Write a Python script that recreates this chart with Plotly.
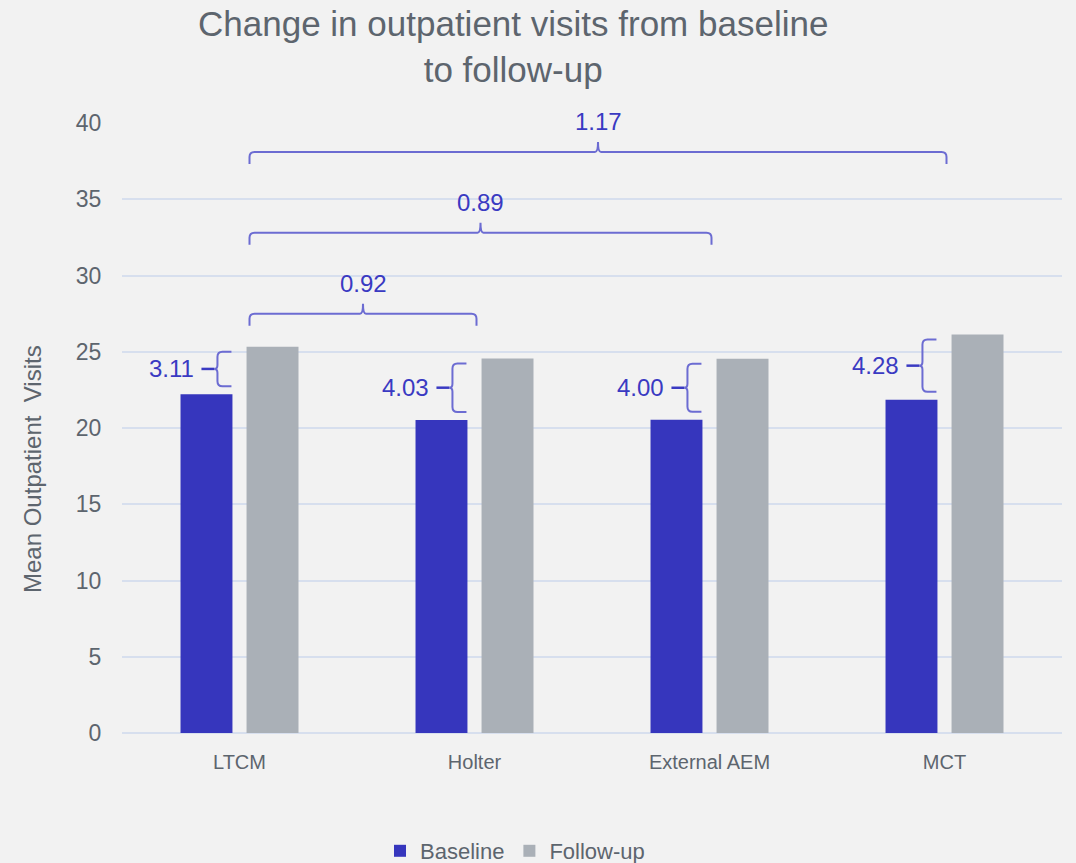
import plotly.graph_objects as go

# ---- data ----
categories = ["LTCM", "Holter", "External AEM", "MCT"]
baseline = [22.22, 20.53, 20.54, 21.85]
change = [3.11, 4.03, 4.00, 4.28]
follow_up = [b + c for b, c in zip(baseline, change)]
y_ticks = [0, 5, 10, 15, 20, 25, 30, 35, 40]

# pairwise comparisons of the change against LTCM: (from index, to index)
comparisons = [(0, 1), (0, 2), (0, 3)]
comparison_levels = [27.5, 32.8, 38.1]

# ---- styling ----
BG = "#F2F2F2"
GRID = "#D7DFEE"
TEXT = "#5D656E"
BLUE = "#3636BD"
GREY = "#AAB0B7"
BRACE = "#6C6CD2"
LABEL = "#3A3AC2"
FONT = "Liberation Sans"

W, H = 1076, 863
ML, MR, MT, MB = 122, 14, 123, 130
X_RANGE = (-0.5, 3.5)
Y_RANGE = (0, 40)
PLOT_W = W - ML - MR
PLOT_H = H - MT - MB
PX_X = PLOT_W / (X_RANGE[1] - X_RANGE[0])
PX_Y = PLOT_H / (Y_RANGE[1] - Y_RANGE[0])


def hx(p):
    return p / PX_X


def hy(p):
    return p / PX_Y


def paper_y(v):
    return (v - Y_RANGE[0]) / (Y_RANGE[1] - Y_RANGE[0])


BAR_W = 0.221
GAP = 0.030

fig = go.Figure()
fig.add_trace(go.Bar(x=list(range(len(categories))), y=baseline, name="Baseline",
                     width=BAR_W, offset=-GAP - BAR_W, marker_color=BLUE,
                     marker_line_width=0))
fig.add_trace(go.Bar(x=list(range(len(categories))), y=follow_up, name="Follow-up",
                     width=BAR_W, offset=GAP, marker_color=GREY,
                     marker_line_width=0))

shapes = []
annotations = []

# vertical braces showing the change within each device
for i, (b, f, c) in enumerate(zip(baseline, follow_up, change)):
    xr = i - GAP - hx(1)
    xv = xr - hx(14)
    ytop = f - hy(5)
    ybot = b + hy(8)
    ym = (ytop + ybot) / 2
    r = 5
    path = (f"M {xr},{ytop} L {xv + hx(r)},{ytop} Q {xv},{ytop} {xv},{ytop - hy(r)} "
            f"L {xv},{ym + hy(4)} Q {xv},{ym} {xv - hx(3)},{ym} "
            f"Q {xv},{ym} {xv},{ym - hy(4)} "
            f"L {xv},{ybot + hy(r)} Q {xv},{ybot} {xv + hx(r)},{ybot} L {xr},{ybot}")
    shapes.append(dict(type="path", path=path, xref="x", yref="y",
                       line=dict(color=BRACE, width=2)))
    tip = xv - hx(3)
    shapes.append(dict(type="line", xref="x", yref="y", x0=tip - hx(13), x1=tip,
                       y0=ym, y1=ym, line=dict(color=LABEL, width=2.5)))
    annotations.append(dict(x=tip - hx(18), y=ym, xref="x", yref="y",
                            text=f"{c:.2f}", showarrow=False, xanchor="right",
                            yanchor="middle", font=dict(family=FONT, size=24, color=LABEL)))

# horizontal brackets comparing each device's change with LTCM
for (a, bidx), yl in zip(comparisons, comparison_levels):
    x0 = a + hx(10)
    x1 = bidx + hx(2)
    xm = (x0 + x1) / 2
    r = 5
    path = (f"M {x0},{yl - hy(12)} L {x0},{yl - hy(r)} Q {x0},{yl} {x0 + hx(r)},{yl} "
            f"L {xm - hx(3)},{yl} Q {xm},{yl} {xm},{yl + hy(10)} "
            f"Q {xm},{yl} {xm + hx(3)},{yl} "
            f"L {x1 - hx(r)},{yl} Q {x1},{yl} {x1},{yl - hy(r)} L {x1},{yl - hy(12)}")
    shapes.append(dict(type="path", path=path, xref="x", yref="y",
                       line=dict(color=BRACE, width=2)))
    diff = change[bidx] - change[a]
    annotations.append(dict(x=xm, y=paper_y(yl + hy(30)), xref="x", yref="paper",
                            text=f"{diff:.2f}", showarrow=False, xanchor="center",
                            yanchor="middle", font=dict(family=FONT, size=24, color=LABEL)))

# y-axis title
annotations.append(dict(x=(32 - ML) / PLOT_W, y=(H - MB - 469) / PLOT_H,
                        xref="paper", yref="paper", text="Mean Outpatient&nbsp; Visits",
                        textangle=-90, showarrow=False, xanchor="center", yanchor="middle",
                        font=dict(family=FONT, size=24, color=TEXT)))

# chart title
annotations.append(dict(x=(513 - ML) / PLOT_W, y=(H - MB - 2) / PLOT_H,
                        xref="paper", yref="paper",
                        text="Change in outpatient visits from baseline<br>to follow-up",
                        showarrow=False, xanchor="center", yanchor="top", align="center",
                        font=dict(family=FONT, size=35, color=TEXT)))

fig.update_layout(
    width=W, height=H,
    margin=dict(l=ML, r=MR, t=MT, b=MB, pad=0, autoexpand=False),
    paper_bgcolor=BG, plot_bgcolor=BG,
    barmode="overlay",
    font=dict(family=FONT, color=TEXT),
    xaxis=dict(range=list(X_RANGE), tickvals=list(range(len(categories))),
               ticktext=categories, showgrid=False, zeroline=False, showline=False,
               ticks="outside", ticklen=11, tickcolor=BG,
               tickfont=dict(family=FONT, size=20, color=TEXT)),
    yaxis=dict(range=list(Y_RANGE), tickvals=y_ticks, showgrid=True, gridcolor=GRID,
               gridwidth=1.5, zeroline=True, zerolinecolor=GRID, zerolinewidth=2,
               showline=False, ticks="outside", ticklen=15, tickcolor=BG,
               tickfont=dict(family=FONT, size=23, color=TEXT)),
    legend=dict(orientation="h", x=(515 - ML) / PLOT_W, xanchor="center",
                y=(H - MB - 851) / PLOT_H, yanchor="middle",
                font=dict(family=FONT, size=22, color=TEXT), bgcolor="rgba(0,0,0,0)"),
    shapes=shapes,
    annotations=annotations,
)

fig.write_html("out.html")
